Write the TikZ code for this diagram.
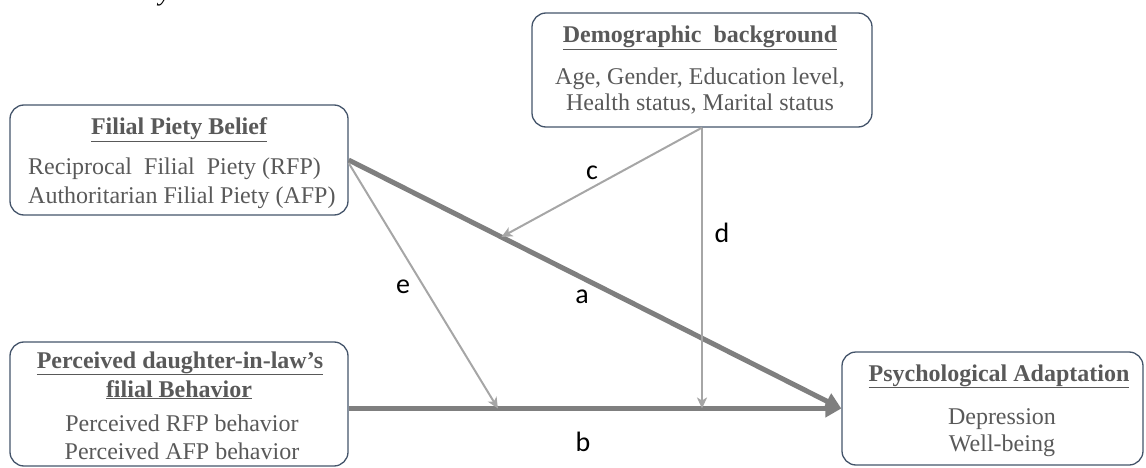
\documentclass[tikz,border=0pt]{standalone}
\usepackage{fontspec}
\setmainfont{Liberation Serif}
\newfontfamily\lblfont{Carlito}
\usetikzlibrary{arrows.meta,calc}
\definecolor{txtgray}{HTML}{595959}
\definecolor{boxline}{HTML}{44546A}
\definecolor{thickgray}{HTML}{7F7F7F}
\definecolor{thingray}{HTML}{A6A6A6}
\begin{document}
\begin{tikzpicture}[x=1pt,y=-1pt,
  box/.style={draw=boxline,line width=1.3pt,rounded corners=14pt,inner sep=0pt},
  ttl/.style={anchor=base,text=txtgray,font=\fontsize{24}{27}\selectfont\bfseries,inner sep=0pt},
  body/.style={anchor=base,text=txtgray,font=\fontsize{24}{27}\selectfont,inner sep=0pt},
  lbl/.style={font=\lblfont\fontsize{28}{30}\selectfont,text=black,inner sep=0pt},
  thick arr/.style={draw=thickgray,line width=5pt,-{Triangle[length=16pt,width=17pt]}},
  thin arr/.style={draw=thingray,line width=2pt,-{Stealth[length=11pt,width=10pt,inset=3pt]}}]
\useasboundingbox (0,0) rectangle (1146,468);

% caption fragment (cut off at the top, as in the reference)
\node[anchor=base,inner sep=0pt,font=\fontsize{26}{30}\selectfont\itshape] (capfrag) at (165,1) {y};

% boxes
\node[box,minimum width=338pt,minimum height=110pt] (fpb) at (179,160) {};
\node[box,minimum width=340pt,minimum height=114pt] (demo) at (702,70) {};
\node[box,minimum width=338pt,minimum height=124pt] (pdb) at (179,404) {};
\node[box,minimum width=301pt,minimum height=113pt] (psy) at (992.5,408.5) {};

% texts: Filial Piety Belief
\node[ttl] (fpbt) at (179,135) {\underline{Filial Piety Belief}};
\node[body,anchor=base west] (fpb1) at (28,175) {Reciprocal\ \ Filial\ \ Piety (RFP)};
\node[body,anchor=base west] (fpb2) at (28,203) {Authoritarian Filial Piety (AFP)};

% Demographic background
\node[ttl] (demot) at (700,43) {\underline{Demographic\ \ background}};
\node[body] (demo1) at (700,85) {Age,\ Gender,\ Education\ level,};
\node[body] (demo2) at (700,111) {Health status, Marital status};

% Perceived daughter-in-law's
\node[ttl] (pdbt1) at (180,368) {\underline{Perceived daughter-in-law’s}};
\node[ttl] (pdbt2) at (179,397) {\underline{filial Behavior}};
\node[body] (pdb1) at (182,431) {Perceived RFP behavior};
\node[body] (pdb2) at (182,459) {Perceived AFP behavior};

% Psychological Adaptation
\node[ttl] (psyt) at (999,381) {\underline{Psychological Adaptation}};
\node[body] (psy1) at (1002,424) {Depression};
\node[body] (psy2) at (1002,451) {Well-being};

% coordinates
\coordinate (bstart) at (pdb.east |- psy.west);
\coordinate (ca) at ($(fpb.east)!0.31!(psy.west)$);
\coordinate (estart) at ($(fpb.east)+(0,3)$);
\coordinate (eb) at ($(bstart)!0.303!(psy.west)$);
\coordinate (db) at (demo.south |- psy.west);

% connectors
\draw[thick arr] (fpb.east) -- (psy.west);
\draw[thick arr] (bstart) -- (psy.west);
\draw[thin arr] (demo.south) -- (ca);
\draw[thin arr] (demo.south) -- (db);
\draw[thin arr] (estart) -- (eb);

% labels
\node[lbl] (la) at (582,297) {a};
\node[lbl] (lb) at (583,442) {b};
\node[lbl] (lc) at (592,173) {c};
\node[lbl] (ld) at (722,233) {d};
\node[lbl] (le) at (403,287) {e};
\end{tikzpicture}
\end{document}
